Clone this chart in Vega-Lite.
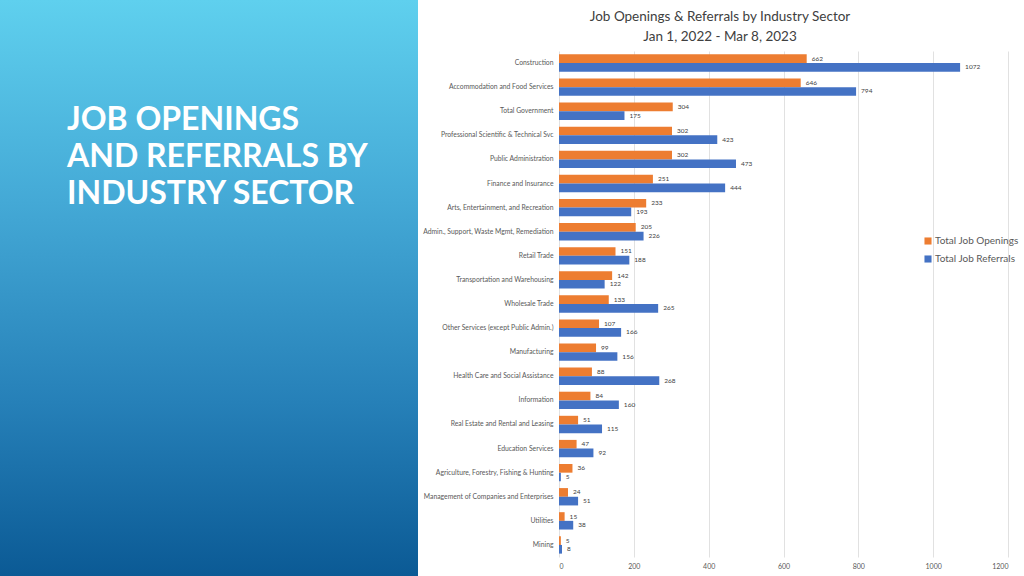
{
  "$schema": "https://vega.github.io/schema/vega-lite/v6.json",
  "padding": 0,
  "background": "white",
  "spacing": 4,
  "config": {
    "font": "Lato",
    "view": {"stroke": null},
    "concat": {"spacing": 0}
  },
  "resolve": {"scale": {"color": "independent"}, "legend": {"color": "independent"}},
  "hconcat": [
    {
      "width": 418,
      "height": 576,
      "data": {"values": [{"panel": "cover"}]},
      "mark": {
        "type": "rect",
        "fill": {
          "gradient": "linear",
          "x1": 0, "y1": 0, "x2": 0, "y2": 1,
          "stops": [
            {"offset": 0, "color": "#5fd0ee"},
            {"offset": 0.35, "color": "#44a9d6"},
            {"offset": 0.7, "color": "#2680b8"},
            {"offset": 1, "color": "#0b5a95"}
          ]
        }
      },
      "encoding": {},
      "title": {
        "text": ["JOB OPENINGS", "AND REFERRALS BY", "INDUSTRY SECTOR"],
        "anchor": "start",
        "frame": "group",
        "orient": "top",
        "offset": -211,
        "dx": 67,
        "lineHeight": 37,
        "font": "Lato",
        "fontSize": 32,
        "fontWeight": "bold",
        "color": "white"
      }
    },
    {
      "spacing": 0,
      "resolve": {"scale": {"color": "independent"}, "legend": {"color": "independent"}},
      "vconcat": [
        {
          "width": 322,
          "height": 51,
          "data": {"values": [
            {"order": 1, "line": "Job Openings & Referrals by Industry Sector"},
            {"order": 2, "line": "Jan 1, 2022 - Mar 8, 2023"}
          ]},
          "mark": {"type": "text", "fontSize": 13.5, "color": "#404040", "baseline": "alphabetic", "align": "center"},
          "encoding": {
            "y": {"field": "order", "type": "ordinal", "axis": null, "scale": {"type": "point", "padding": 0.775, "align": 0.677}},
            "text": {"field": "line", "type": "nominal"}
          }
        },
        {
          "width": 449,
          "height": 506,
          "data": {"values": [
            {"sector": "Construction", "series": "Total Job Openings", "value": 662},
            {"sector": "Construction", "series": "Total Job Referrals", "value": 1072},
            {"sector": "Accommodation and Food Services", "series": "Total Job Openings", "value": 646},
            {"sector": "Accommodation and Food Services", "series": "Total Job Referrals", "value": 794},
            {"sector": "Total Government", "series": "Total Job Openings", "value": 304},
            {"sector": "Total Government", "series": "Total Job Referrals", "value": 175},
            {"sector": "Professional Scientific & Technical Svc", "series": "Total Job Openings", "value": 302},
            {"sector": "Professional Scientific & Technical Svc", "series": "Total Job Referrals", "value": 423},
            {"sector": "Public Administration", "series": "Total Job Openings", "value": 302},
            {"sector": "Public Administration", "series": "Total Job Referrals", "value": 473},
            {"sector": "Finance and Insurance", "series": "Total Job Openings", "value": 251},
            {"sector": "Finance and Insurance", "series": "Total Job Referrals", "value": 444},
            {"sector": "Arts, Entertainment, and Recreation", "series": "Total Job Openings", "value": 233},
            {"sector": "Arts, Entertainment, and Recreation", "series": "Total Job Referrals", "value": 193},
            {"sector": "Admin., Support, Waste Mgmt, Remediation", "series": "Total Job Openings", "value": 205},
            {"sector": "Admin., Support, Waste Mgmt, Remediation", "series": "Total Job Referrals", "value": 226},
            {"sector": "Retail Trade", "series": "Total Job Openings", "value": 151},
            {"sector": "Retail Trade", "series": "Total Job Referrals", "value": 188},
            {"sector": "Transportation and Warehousing", "series": "Total Job Openings", "value": 142},
            {"sector": "Transportation and Warehousing", "series": "Total Job Referrals", "value": 122},
            {"sector": "Wholesale Trade", "series": "Total Job Openings", "value": 133},
            {"sector": "Wholesale Trade", "series": "Total Job Referrals", "value": 265},
            {"sector": "Other Services (except Public Admin.)", "series": "Total Job Openings", "value": 107},
            {"sector": "Other Services (except Public Admin.)", "series": "Total Job Referrals", "value": 166},
            {"sector": "Manufacturing", "series": "Total Job Openings", "value": 99},
            {"sector": "Manufacturing", "series": "Total Job Referrals", "value": 156},
            {"sector": "Health Care and Social Assistance", "series": "Total Job Openings", "value": 88},
            {"sector": "Health Care and Social Assistance", "series": "Total Job Referrals", "value": 268},
            {"sector": "Information", "series": "Total Job Openings", "value": 84},
            {"sector": "Information", "series": "Total Job Referrals", "value": 160},
            {"sector": "Real Estate and Rental and Leasing", "series": "Total Job Openings", "value": 51},
            {"sector": "Real Estate and Rental and Leasing", "series": "Total Job Referrals", "value": 115},
            {"sector": "Education Services", "series": "Total Job Openings", "value": 47},
            {"sector": "Education Services", "series": "Total Job Referrals", "value": 92},
            {"sector": "Agriculture, Forestry, Fishing & Hunting", "series": "Total Job Openings", "value": 36},
            {"sector": "Agriculture, Forestry, Fishing & Hunting", "series": "Total Job Referrals", "value": 5},
            {"sector": "Management of Companies and Enterprises", "series": "Total Job Openings", "value": 24},
            {"sector": "Management of Companies and Enterprises", "series": "Total Job Referrals", "value": 51},
            {"sector": "Utilities", "series": "Total Job Openings", "value": 15},
            {"sector": "Utilities", "series": "Total Job Referrals", "value": 38},
            {"sector": "Mining", "series": "Total Job Openings", "value": 5},
            {"sector": "Mining", "series": "Total Job Referrals", "value": 8}
          ]},
          "encoding": {
            "y": {
              "field": "sector", "type": "nominal", "sort": null,
              "scale": {"paddingInner": 0.28, "paddingOuter": 0.14},
              "axis": {"title": null, "ticks": false, "domain": false, "labelFontSize": 6.8, "labelColor": "#595959", "labelPadding": 6, "labelLimit": 300}
            },
            "x": {
              "field": "value", "type": "quantitative",
              "scale": {"domain": [0, 1200], "nice": false},
              "axis": {"title": null, "ticks": false, "domain": false, "values": [0, 200, 400, 600, 800, 1000, 1200], "format": "d", "labelFontSize": 7, "labelColor": "#595959", "labelPadding": 5, "gridColor": "#d9d9d9", "gridWidth": 0.8}
            },
            "yOffset": {"field": "series", "type": "nominal", "sort": null}
          },
          "layer": [
            {
              "mark": {"type": "bar"},
              "encoding": {
                "color": {
                  "field": "series", "type": "nominal",
                  "scale": {"domain": ["Total Job Openings", "Total Job Referrals"], "range": ["#ED7D31", "#4472C4"]},
                  "legend": {"title": null, "orient": "none", "legendX": 364, "legendY": 185, "symbolType": "square", "symbolSize": 50, "labelFontSize": 10, "labelColor": "#595959", "labelOffset": 2, "rowPadding": 8}
                }
              }
            },
            {
              "mark": {"type": "text", "align": "left", "baseline": "middle", "dx": 5, "fontSize": 6.5, "color": "#404040"},
              "encoding": {"text": {"field": "value", "type": "quantitative", "format": "d"}}
            }
          ]
        }
      ]
    }
  ]
}
